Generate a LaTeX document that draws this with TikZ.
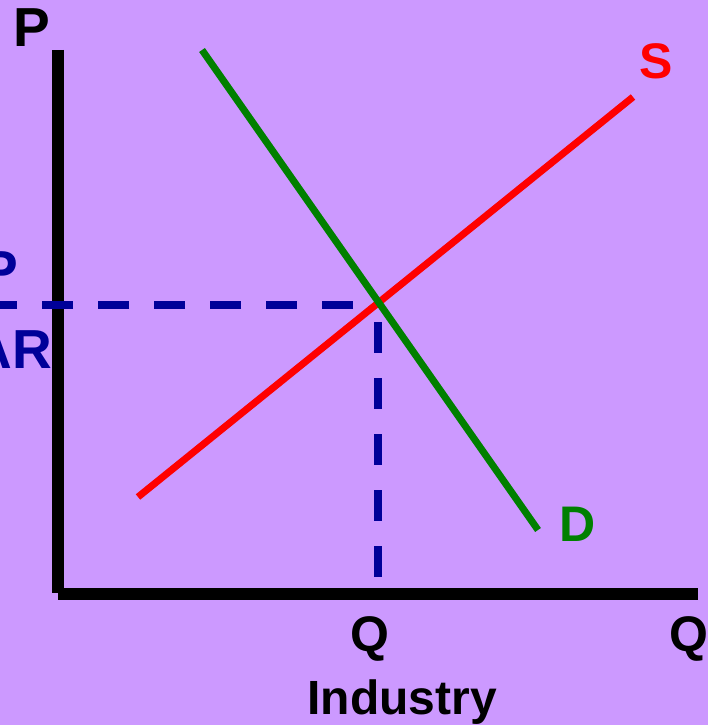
\documentclass[tikz,border=0pt]{standalone}
\usepackage{fontspec}
\setmainfont{Liberation Sans}
\definecolor{bgpurple}{RGB}{204,153,255}
\definecolor{dnavy}{RGB}{0,0,153}
\definecolor{dgreen}{RGB}{0,128,0}
\begin{document}
\begin{tikzpicture}[x=1pt,y=-1pt,
  axis/.style={line width=12pt,black},
  curve/.style={line width=7pt},
  guide/.style={line width=8pt,dnavy,dash pattern=on 31pt off 25pt},
  lbl/.style={inner sep=0pt,font=\fontsize{50}{60}\selectfont\bfseries},
  smlbl/.style={inner sep=0pt,font=\fontsize{48}{58}\selectfont\bfseries},
  biglbl/.style={inner sep=0pt,font=\fontsize{55}{66}\selectfont\bfseries}]
\useasboundingbox (0,0) rectangle (708,725);
\clip (0,0) rectangle (708,725);
\fill[bgpurple] (0,0) rectangle (708,725);
% coordinates
\coordinate (ytop) at (58,50);
\coordinate (ybot) at (58,593);
\coordinate (xl) at (58,594);
\coordinate (xr) at (698,594);
\coordinate (d1) at (202,50);
\coordinate (d2) at (538,530);
\coordinate (s1) at (138,497);
\coordinate (s2) at (633,97);
\coordinate (eq) at (378,305);
\coordinate (pl) at (0,305);
\coordinate (qb) at (378,578);
% axes
\draw[axis] (ytop) -- (ybot);
\draw[axis] (xl) -- (xr);
% guides
\draw[guide,dash phase=31pt] (eq) -- (pl);
\draw[guide,dash phase=39pt] (eq) -- (qb);
% curves
\draw[curve,red] (s1) -- (s2);
\draw[curve,dgreen] (d1) -- (d2);
% labels
\node[biglbl,anchor=center] (pax) at (32,27.5) {P};
\node[lbl,red,anchor=center] (slbl) at (656,61) {S};
\node[lbl,dgreen,anchor=center] (dlbl) at (578,524) {D};
\node[lbl,anchor=base] (qmid) at (370,651) {Q};
\node[lbl,anchor=base west] (qax) at (669,651) {Q};
\node[smlbl,anchor=base] (ind) at (402,714) {Industry};
\node[biglbl,dnavy,anchor=base east] (plbl) at (18,289) {P};
\node[biglbl,dnavy,anchor=base east] (arlbl) at (52,368) {AR};
\end{tikzpicture}
\end{document}
